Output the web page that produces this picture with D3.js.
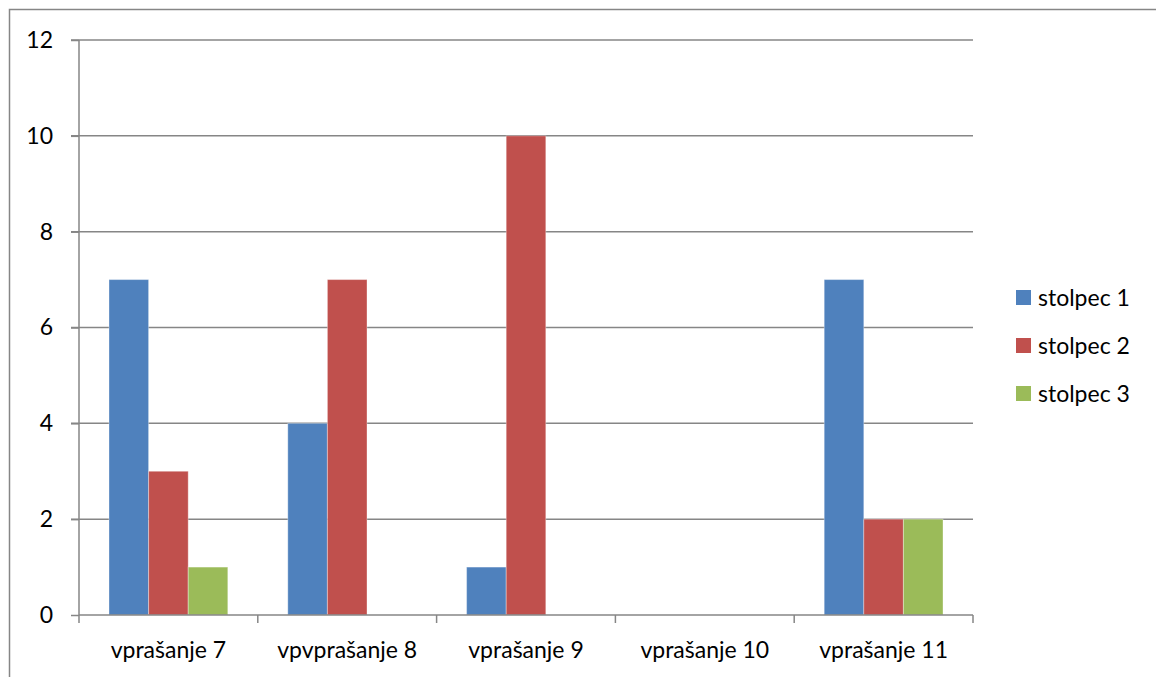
<!DOCTYPE html>
<html>
<head>
<meta charset="utf-8">
<script src="https://cdn.jsdelivr.net/npm/d3@7"></script>
<style>
  body { margin: 0; background: #fff; }
  text { font-family: Lato, "Open Sans", sans-serif; }
</style>
</head>
<body>
<script>
const categories = ["vprašanje 7", "vpvprašanje 8", "vprašanje 9", "vprašanje 10", "vprašanje 11"];
const seriesNames = ["stolpec 1", "stolpec 2", "stolpec 3"];
const stolpec1 = [7, 4, 1, 0, 7];
const stolpec2 = [3, 7, 10, 0, 2];
const stolpec3 = [1, 0, 0, 0, 2];
const yTicks = [0, 2, 4, 6, 8, 10, 12];
const colors = ["#4F81BD", "#C0504D", "#9BBB59"];

const width = 1156, height = 677;
const plotL = 79, plotR = 973, plotT = 40, plotB = 615;
const fs = 23;

const svg = d3.select("body").append("svg")
    .attr("width", width)
    .attr("height", height);

// outer chart frame
svg.append("rect")
    .attr("x", 9.5).attr("y", 9.5)
    .attr("width", 1200).attr("height", 800)
    .attr("fill", "none")
    .attr("stroke", "#868686")
    .attr("stroke-width", 1.5);

const x0 = d3.scaleBand().domain(categories).range([plotL, plotR]).paddingInner(0).paddingOuter(0);
const x1 = d3.scaleBand().domain(seriesNames).range([30, x0.bandwidth() - 30]);
const y = d3.scaleLinear().domain([0, 12]).range([plotB, plotT]);

// gridlines
svg.append("g").selectAll("line")
    .data(yTicks.filter(d => d > 0))
    .join("line")
    .attr("x1", plotL - 8).attr("x2", plotR)
    .attr("y1", d => y(d)).attr("y2", d => y(d))
    .attr("stroke", "#868686").attr("stroke-width", 1.5);

const series = [stolpec1, stolpec2, stolpec3];
categories.forEach((c, i) => {
    series.forEach((s, j) => {
        if (s[i] <= 0) return;
        svg.append("rect")
            .attr("x", x0(c) + x1(seriesNames[j]))
            .attr("y", y(s[i]))
            .attr("width", x1.bandwidth())
            .attr("height", y(0) - y(s[i]))
            .attr("fill", colors[j])
            .attr("stroke", "rgba(255,255,255,0.35)")
            .attr("stroke-width", 1);
    });
});

// y axis
const yAxis = svg.append("g")
    .attr("transform", `translate(${plotL},0)`)
    .call(d3.axisLeft(y).tickValues(yTicks).tickSize(8).tickPadding(18).tickFormat(d3.format("d")));
yAxis.select(".domain").attr("stroke", "#868686").attr("stroke-width", 1.5).attr("d", `M0,${plotT}V${plotB}`);
yAxis.selectAll(".tick line").attr("stroke", "#868686").attr("stroke-width", 1.5);
yAxis.selectAll("text").attr("font-size", fs).attr("fill", "#000").attr("font-family", "Lato, sans-serif");

// x axis
const xAxis = svg.append("g")
    .attr("transform", `translate(0,${plotB})`)
    .call(d3.axisBottom(x0).tickSize(0).tickPadding(27));
xAxis.select(".domain").attr("stroke", "#868686").attr("stroke-width", 1.5).attr("d", `M${plotL},0H${plotR}`);
xAxis.selectAll("text").attr("font-size", fs).attr("fill", "#000").attr("font-family", "Lato, sans-serif");
xAxis.selectAll(".cat-tick")
    .data(d3.range(categories.length + 1))
    .join("line")
    .attr("x1", i => plotL + i * x0.step()).attr("x2", i => plotL + i * x0.step())
    .attr("y1", 0).attr("y2", 8)
    .attr("stroke", "#868686").attr("stroke-width", 1.5);

// legend
const legend = svg.append("g").selectAll("g")
    .data(seriesNames)
    .join("g")
    .attr("transform", (d, i) => `translate(1016,${290 + i * 48})`);
legend.append("rect")
    .attr("width", 15).attr("height", 15)
    .attr("fill", (d, i) => colors[i]);
legend.append("text")
    .attr("x", 22).attr("y", 7.5)
    .attr("dy", "0.35em")
    .attr("font-size", fs)
    .text(d => d);
</script>
</body>
</html>
